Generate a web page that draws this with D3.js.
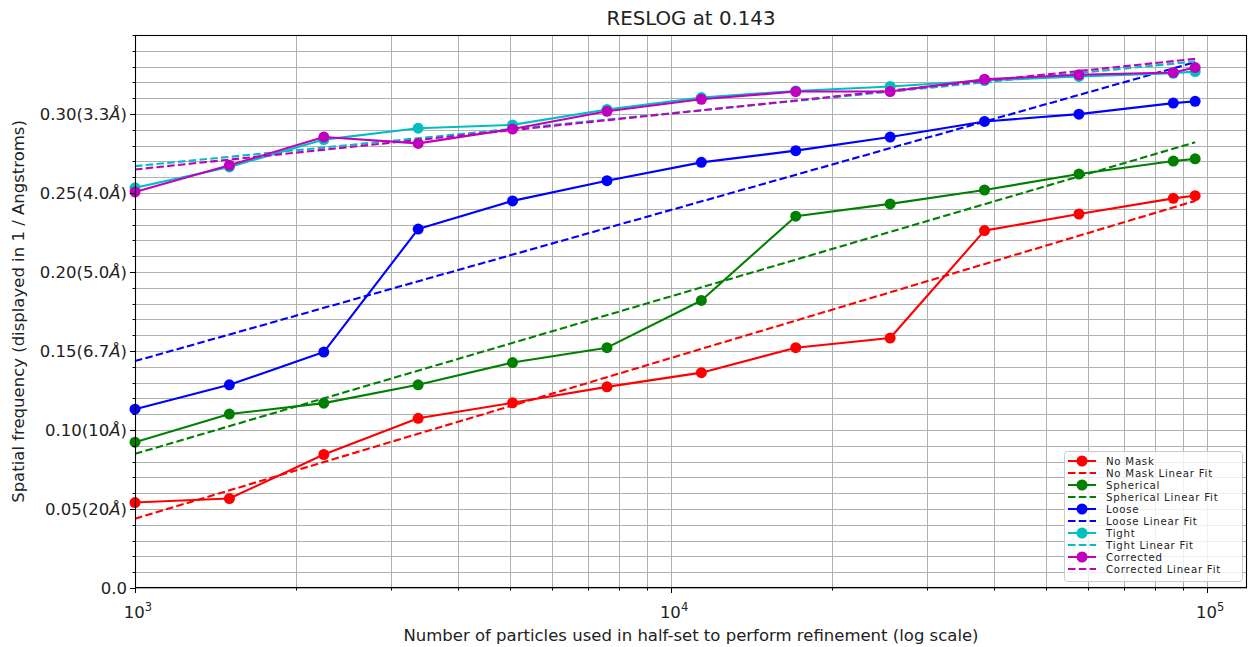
<!DOCTYPE html>
<html>
<head>
<meta charset="utf-8">
<script src="https://cdn.jsdelivr.net/npm/d3@7"></script>
<style>
  html, body { margin: 0; padding: 0; background: #ffffff; }
  svg { display: block; font-family: "DejaVu Sans", sans-serif; }
</style>
</head>
<body>
<svg id="chart" width="1249" height="647"></svg>
<script>
// ---------------- data ----------------
const particles = [1000, 1500, 2250, 3375, 5062, 7594, 11391, 17086, 25629, 38443, 57665, 86498, 95000];

const noMask    = [0.0541, 0.0566, 0.0845, 0.1074, 0.1172, 0.1273, 0.1363, 0.1521, 0.1582, 0.2262, 0.2367, 0.2466, 0.2483];
const spherical = [0.0923, 0.1101, 0.1170, 0.1286, 0.1427, 0.1521, 0.1820, 0.2353, 0.2431, 0.2519, 0.2620, 0.2702, 0.2716];
const loose     = [0.1132, 0.1286, 0.1493, 0.2272, 0.2450, 0.2578, 0.2694, 0.2768, 0.2854, 0.2953, 0.2999, 0.3069, 0.3080];
const tight     = [0.2533, 0.2665, 0.2838, 0.2910, 0.2931, 0.3029, 0.3104, 0.3146, 0.3174, 0.3212, 0.3238, 0.3258, 0.3269];
const corrected = [0.2507, 0.2675, 0.2854, 0.2814, 0.2905, 0.3017, 0.3093, 0.3142, 0.3142, 0.3220, 0.3248, 0.3263, 0.3294];

// linear fit endpoints (at first and last particle count)
const fitNoMask    = [0.0439, 0.2450];
const fitSpherical = [0.0849, 0.2821];
const fitLoose     = [0.1436, 0.3328];
const fitTight     = [0.2670, 0.3332];
const fitCorrected = [0.2649, 0.3349];

const seriesNames = ["No Mask", "Spherical", "Loose", "Tight", "Corrected"];
const seriesColors = ["#ff0000", "#008000", "#0000ff", "#00bfbf", "#bf00bf"];

const yTickValues = [0.0, 0.05, 0.10, 0.15, 0.20, 0.25, 0.30];
const yTickLabels = ["0.0", "0.05(20Å)", "0.10(10Å)", "0.15(6.7Å)", "0.20(5.0Å)", "0.25(4.0Å)", "0.30(3.3Å)"];
const xTickValues = [1e3, 1e4, 1e5];
const xTickExponents = ["3", "4", "5"];

const titleText = "RESLOG at 0.143";
const xLabel = "Number of particles used in half-set to perform refinement (log scale)";
const yLabel = "Spatial frequency (displayed in 1 / Angstroms)";

// ---------------- layout ----------------
const L = 135, R = 1247, T = 35, B = 588;
const svg = d3.select("#chart");

const x = d3.scaleLog().domain([1000, 118700]).range([L, R]);
const y = d3.scaleLinear().domain([0, 0.35]).range([B, T]);

// grid
const yMinor = d3.range(0, 0.3501, 0.01);
const xMinor = [];
[1e3, 1e4, 1e5].forEach(d => { for (let k = 1; k <= 9; k++) { const v = d * k; if (v <= x.domain()[1]) xMinor.push(v); } });

const grid = svg.append("g").attr("stroke", "#b0b0b0").attr("stroke-width", 1);
grid.selectAll("line.gy").data(yMinor).join("line")
  .attr("x1", L).attr("x2", R)
  .attr("y1", d => Math.round(y(d)) + 0.5).attr("y2", d => Math.round(y(d)) + 0.5);
grid.selectAll("line.gx").data(xMinor).join("line")
  .attr("y1", T).attr("y2", B)
  .attr("x1", d => Math.round(x(d)) + 0.5).attr("x2", d => Math.round(x(d)) + 0.5);

// series
const allSeries = [noMask, spherical, loose, tight, corrected];
const allFits = [fitNoMask, fitSpherical, fitLoose, fitTight, fitCorrected];
const line = d3.line().x(d => x(d[0])).y(d => y(d[1]));
const plot = svg.append("g");

allSeries.forEach((vals, i) => {
  const pts = particles.map((p, j) => [p, vals[j]]);
  plot.append("path").datum(pts)
    .attr("d", line).attr("fill", "none")
    .attr("stroke", seriesColors[i]).attr("stroke-width", 2.1)
    .attr("stroke-linejoin", "round").attr("stroke-linecap", "square");
  plot.append("g").selectAll("circle").data(pts).join("circle")
    .attr("cx", d => x(d[0])).attr("cy", d => y(d[1])).attr("r", 5.5)
    .attr("fill", seriesColors[i]);
  const fitPts = [[particles[0], allFits[i][0]], [particles[particles.length - 1], allFits[i][1]]];
  plot.append("path").datum(fitPts)
    .attr("d", line).attr("fill", "none")
    .attr("stroke", seriesColors[i]).attr("stroke-width", 2.1)
    .attr("stroke-dasharray", "7.5,3.3");
});

// spines
svg.append("rect").attr("x", L + 0.5).attr("y", T + 0.5)
  .attr("width", R - L - 1).attr("height", B - T - 1)
  .attr("fill", "none").attr("stroke", "#000").attr("stroke-width", 1.1);

// ticks
const ticks = svg.append("g").attr("stroke", "#000").attr("stroke-width", 1);
ticks.selectAll("line.ym").data(yMinor).join("line")
  .attr("x1", L - 2.5).attr("x2", L)
  .attr("y1", d => Math.round(y(d)) + 0.5).attr("y2", d => Math.round(y(d)) + 0.5);
ticks.selectAll("line.yM").data(yTickValues).join("line")
  .attr("x1", L - 5).attr("x2", L)
  .attr("y1", d => Math.round(y(d)) + 0.5).attr("y2", d => Math.round(y(d)) + 0.5);
ticks.selectAll("line.xm").data(xMinor).join("line")
  .attr("y1", B).attr("y2", B + 2.5)
  .attr("x1", d => Math.round(x(d)) + 0.5).attr("x2", d => Math.round(x(d)) + 0.5);
ticks.selectAll("line.xM").data(xTickValues).join("line")
  .attr("y1", B).attr("y2", B + 5)
  .attr("x1", d => Math.round(x(d)) + 0.5).attr("x2", d => Math.round(x(d)) + 0.5);

// y tick labels
const ylab = svg.append("g").attr("font-size", 16.5).attr("fill", "#222").attr("text-anchor", "end");
yTickValues.forEach((v, i) => {
  const t = ylab.append("text").attr("x", L - 8).attr("y", y(v)).attr("dy", "0.36em");
  const parts = yTickLabels[i].split("Å");
  if (parts.length === 1) {
    t.text(parts[0]);
  } else {
    t.append("tspan").text(parts[0]);
    t.append("tspan").attr("font-style", "italic").text("Å");
    t.append("tspan").text(parts[1]);
  }
});

// x tick labels
const xlab = svg.append("g").attr("font-size", 16.5).attr("fill", "#222").attr("text-anchor", "middle");
xTickValues.forEach((v, i) => {
  const t = xlab.append("text").attr("x", x(v) + 3).attr("y", 618);
  t.append("tspan").text("10");
  t.append("tspan").attr("font-size", 11.5).attr("dy", -7).text(xTickExponents[i]);
});

// labels
svg.append("text").attr("x", (L + R) / 2).attr("y", 25).attr("text-anchor", "middle")
  .attr("font-size", 19.8).attr("fill", "#222").text(titleText);
svg.append("text").attr("x", (L + R) / 2).attr("y", 641).attr("text-anchor", "middle")
  .attr("font-size", 16.5).attr("fill", "#222").text(xLabel);
svg.append("text").attr("transform", `translate(24, ${(T + B) / 2}) rotate(-90)`)
  .attr("text-anchor", "middle").attr("font-size", 16.5).attr("fill", "#222").text(yLabel);

// legend
const lg = svg.append("g");
lg.append("rect").attr("x", 1064.5).attr("y", 451.5).attr("width", 178).attr("height", 130)
  .attr("rx", 3).attr("fill", "#fff").attr("fill-opacity", 0.8)
  .attr("stroke", "#cccccc").attr("stroke-width", 1);
const legendItems = [];
seriesNames.forEach((n, i) => {
  legendItems.push({ name: n, color: seriesColors[i], dashed: false });
  legendItems.push({ name: n + " Linear Fit", color: seriesColors[i], dashed: true });
});
legendItems.forEach((it, k) => {
  const cy = 461 + k * 12;
  lg.append("line").attr("x1", 1068).attr("x2", 1096).attr("y1", cy).attr("y2", cy)
    .attr("stroke", it.color).attr("stroke-width", 2)
    .attr("stroke-dasharray", it.dashed ? "7.5,3.3" : null);
  if (!it.dashed) lg.append("circle").attr("cx", 1082).attr("cy", cy).attr("r", 5.5).attr("fill", it.color);
  lg.append("text").attr("x", 1106).attr("y", cy).attr("dy", "0.36em")
    .attr("font-size", 10.2).attr("letter-spacing", 0.75).attr("fill", "#222").text(it.name);
});
</script>
</body>
</html>
